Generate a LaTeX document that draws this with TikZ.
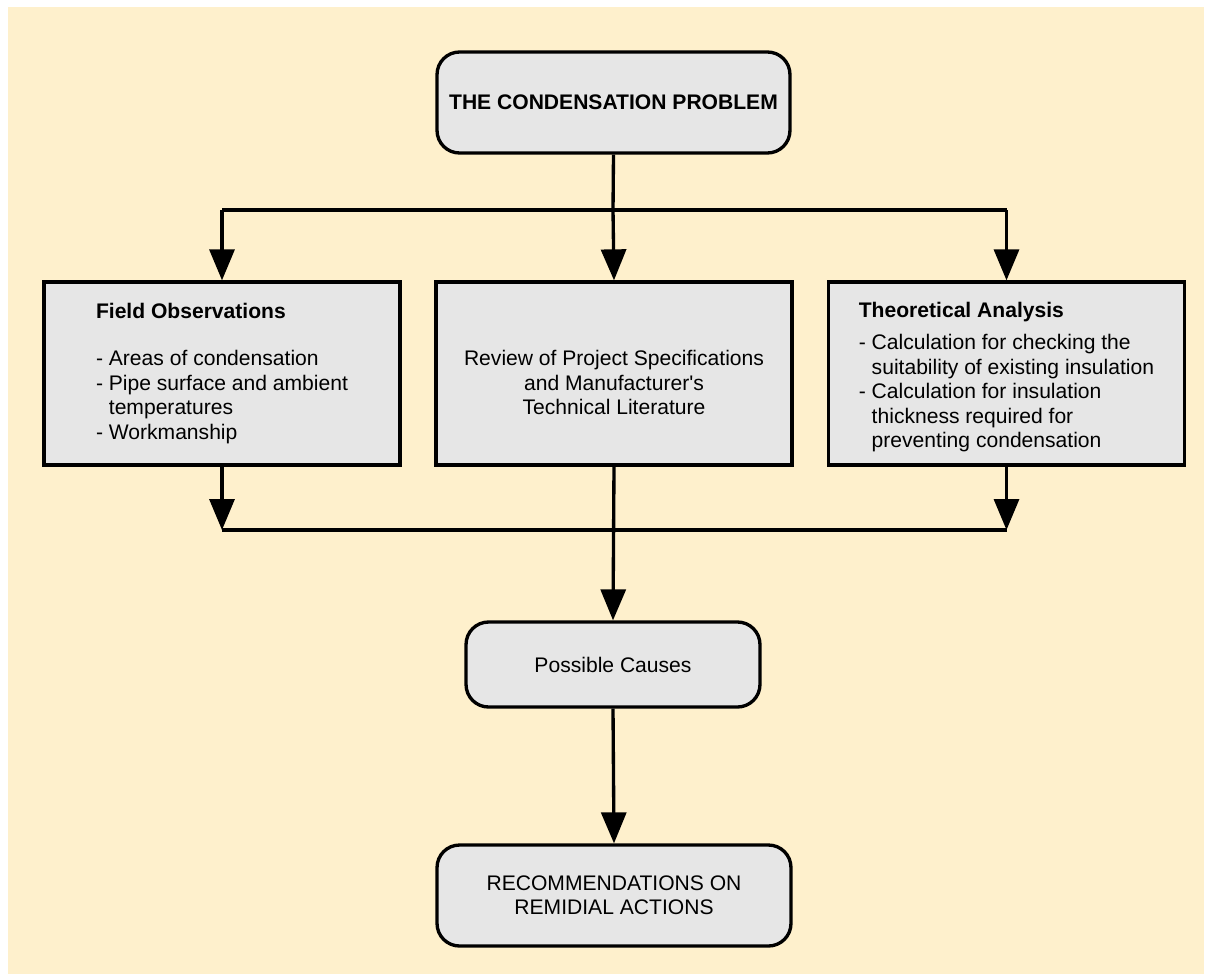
\documentclass[tikz,border=0pt]{standalone}
\usepackage{fontspec}
\setmainfont{Liberation Sans}
\usepackage{tikz}
\usetikzlibrary{positioning,calc,arrows.meta}

\definecolor{cream}{RGB}{254,240,204}
\definecolor{boxgray}{RGB}{230,230,230}

\begin{document}
\begin{tikzpicture}[x=0.02cm,y=-0.02cm,
	box/.style={draw, line width=1.9pt, fill=boxgray, inner sep=0pt, font=\fontsize{12}{13.9}\selectfont},
	roundbox/.style={box, rounded corners=0.45cm, align=center},
	squarebox/.style={box, minimum width=7.12cm, minimum height=3.66cm},
	link/.style={line width=1.9pt},
	arr/.style={link, -{Triangle[width=0.5cm,length=0.62cm]}}]
			\begingroup
			\useasboundingbox (0,0) rectangle (1206,974);
			\fill[cream] (8,7) rectangle (1204,974);
			
			% top and bottom rounded boxes
			\node[roundbox, minimum width=7.06cm, minimum height=2.02cm, font=\fontsize{12}{13.9}\selectfont\bfseries] (problem) at (613.5,102.5) {THE CONDENSATION PROBLEM};
			\node[roundbox, minimum width=5.88cm, minimum height=1.7cm] (causes) at (613,664.5) {Possible Causes};
			\node[roundbox, minimum width=7.08cm, minimum height=2.02cm] (actions) at (614,895.5) {RECOMMENDATIONS ON\\REMIDIAL ACTIONS};
			
			% the three studies
			\node[squarebox, align=left] (field) at (222,373.5) {\textbf{Field Observations}\\[0.45cm]
				- Areas of condensation\\
				- Pipe surface and ambient\\
				\phantom{- }temperatures\\
				- Workmanship};
			\node[squarebox, align=center] (review) at (614,373.5) {\rule{0pt}{19pt}Review of Project Specifications\\and Manufacturer\textquotesingle s\\Technical Literature};
			\node[squarebox, align=left] (theory) at (1006.5,373.5) {\rule{0pt}{13pt}\textbf{Theoretical Analysis}\\[0.15cm]
				- Calculation for checking the\\
				\phantom{- }suitability of existing insulation\\
				- Calculation for insulation\\
				\phantom{- }thickness required for\\
				\phantom{- }preventing condensation};
			
			% splitting
			\coordinate (split) at (613,210);
			\draw[link] (problem.south) -- (split);
			\draw[link] (field.north |- split) -- (theory.north |- split);
			\draw[arr] (field.north |- split) -- (field.north);
			\draw[arr] (split) -- (review.north);
			\draw[arr] (theory.north |- split) -- (theory.north);
			
			% joining
			\coordinate (join) at (613,530);
			\draw[link] (field.south |- join) -- (theory.south |- join);
			\draw[arr] (field.south) -- (field.south |- join);
			\draw[arr] (theory.south) -- (theory.south |- join);
			\draw[arr] (review.south) -- (causes.north);
			\draw[arr] (causes.south) -- (actions.north);
			\endgroup
			\end{tikzpicture}
\end{document}
